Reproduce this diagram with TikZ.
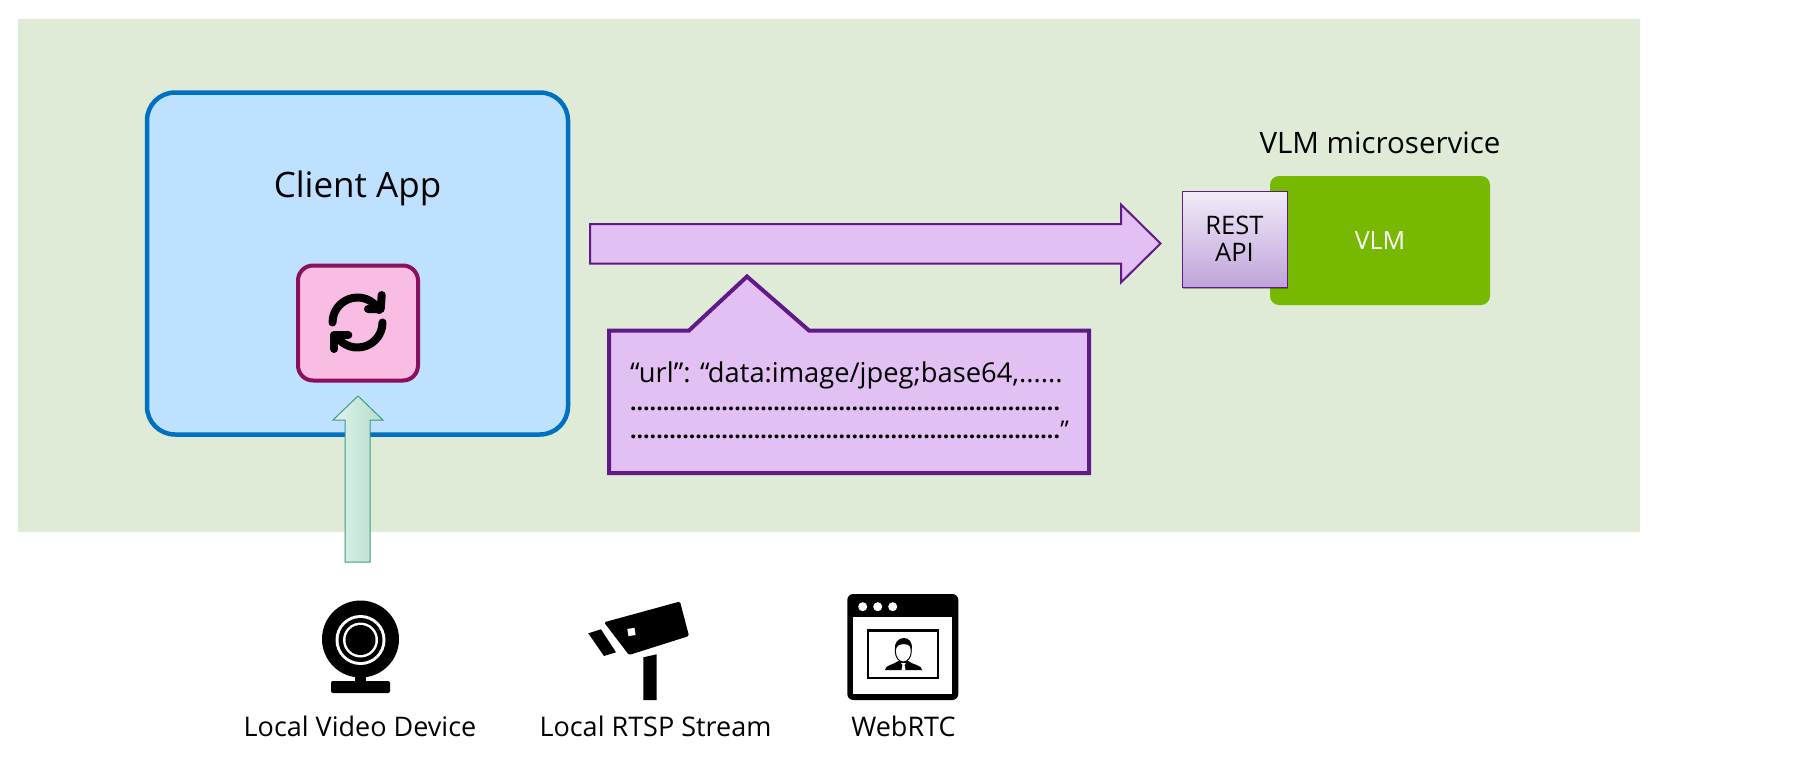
\documentclass[tikz,border=0pt]{standalone}
\usepackage{fontspec}
\setmainfont{Open Sans}
\usetikzlibrary{shadows}
\definecolor{panelgreen}{HTML}{DFEBD6}
\definecolor{clientblue}{HTML}{BDE1FF}
\definecolor{clientedge}{HTML}{0070C0}
\definecolor{syncpink}{HTML}{F9BCE2}
\definecolor{syncedge}{HTML}{8A0F5C}
\definecolor{callpurple}{HTML}{E2C0F3}
\definecolor{calledge}{HTML}{5F1A87}
\definecolor{vlmgreen}{HTML}{76B900}
\definecolor{arrowedge}{HTML}{3B9C83}
\definecolor{arrowlight}{HTML}{E0F3EB}
\definecolor{arrowdark}{HTML}{B5DDCB}
\definecolor{restlight}{HTML}{F1ECF9}
\definecolor{restdark}{HTML}{BFA3DA}
\tikzset{
  softshadow/.style={drop shadow={shadow xshift=1pt,shadow yshift=-1.5pt,fill=black,opacity=.3}},
  clientbox/.style={draw=clientedge,line width=4.5pt,fill=clientblue,rounded corners=28pt,minimum width=421pt,minimum height=342pt},
  syncbox/.style={draw=syncedge,line width=4pt,fill=syncpink,rounded corners=15pt,minimum width=120pt,minimum height=115pt,softshadow},
  vlmbox/.style={fill=vlmgreen,rounded corners=9pt,minimum width=220pt,minimum height=129pt,text=white,font=\fontsize{25}{30}\selectfont},
  restbox/.style={draw=calledge,line width=1pt,top color=restlight,bottom color=restdark,minimum width=105pt,minimum height=96pt,align=center,inner sep=0pt,font=\fontsize{25.5}{27.5}\selectfont,softshadow},
  biglabel/.style={anchor=base,inner sep=0pt,font=\fontsize{35}{40}\selectfont},
  caption/.style={anchor=base,inner sep=0pt,font=\fontsize{27}{32}\selectfont},
  titlelabel/.style={anchor=base,inner sep=0pt,font=\fontsize{29.5}{34}\selectfont},
  urlline/.style={anchor=base west,inner sep=0pt,font=\fontsize{27.3}{32}\selectfont},
  dotline/.style={anchor=base west,inner sep=0pt,font=\fontsize{22.85}{28}\selectfont},
  callshape/.style={draw=calledge,line width=4pt,fill=callpurple,line join=miter},
  syncline/.style={line width=8pt,line cap=round,line join=round}
}
\newcommand{\dotrow}{\textbf{..................................................................}}
\begin{document}
\begin{tikzpicture}[x=1pt,y=-1pt]
\useasboundingbox (0,0) rectangle (1797,761);
\fill[white] (0,0) rectangle (1797,761);
\fill[panelgreen] (18,18.5) rectangle (1640,532);

\node[clientbox] (client) at (357.5,263.5) {};
\node[biglabel] (clientlabel) at (357.5,197) {Client App};
\node[syncbox] (sync) at (358,323) {};
\draw[syncline] (332.5,322.5) arc[start angle=180,end angle=330,radius=25];
\draw[syncline] (381.7,295) -- (380.7,309) -- (368,309);
\draw[syncline] (382.5,322.5) arc[start angle=0,end angle=150,radius=25];
\draw[syncline] (348.3,335) -- (334,335) -- (334,349);

\draw[draw=arrowedge,line width=1pt,left color=arrowlight,right color=arrowdark] (358,396) -- (383,420) -- (370,420) -- (370,562) -- (345,562) -- (345,420) -- (333,420) -- cycle;

\draw[callshape,line width=2pt] (590,224) -- (1121,224) -- (1121,204.5) -- (1160.5,243.5) -- (1121,282.5) -- (1121,263.5) -- (590,263.5) -- cycle;
\draw[callshape] (609,330.5) -- (689,330.5) -- (747,276.5) -- (809,330.5) -- (1089,330.5) -- (1089,473) -- (609,473) -- cycle;
\node[urlline] (urltext) at (630,382) {“url”: “data:image/jpeg;base64,......};
\node[dotline] (dotsone) at (630,410) {\dotrow};
\node[dotline] (dotstwo) at (630,438) {\dotrow\fontsize{24.4}{28}\selectfont ”};

\node[titlelabel] (vlmtitle) at (1380,153.5) {VLM microservice};
\node[vlmbox] (vlm) at (1380,240.5) {VLM};
\node[restbox] (rest) at (1234.5,239) {REST\\API};

\fill (360.5,639) circle (38.5);
\fill[white] (360.5,640) circle (25);
\fill (360.5,640) circle (22);
\fill[white] (360.5,640) circle (17.5);
\fill (360.5,640) circle (15);
\fill (355,672) rectangle (366,683);
\fill[rounded corners=2pt] (331,681) rectangle (390,693);
\node[caption] (videolabel) at (360,736) {Local Video Device};

\fill[rounded corners=1.5pt] (604,622.3) -- (680,601.5) -- (689,636) -- (629,655) -- cycle;
\fill (588.3,633.3) -- (601,629.3) -- (616,652.3) -- (604,656) -- cycle;
\fill[white] (627.3,629) -- (634.5,627.8) -- (635.6,635) -- (628.5,636.2) -- cycle;
\fill (643.3,657.3) -- (656.7,654.3) -- (656.7,700) -- (643.3,700) -- cycle;
\node[caption] (rtsplabel) at (655.5,736) {Local RTSP Stream};

\fill[rounded corners=6pt] (847.3,594) rectangle (958.3,700);
\fill[white] (853.3,617.3) rectangle (952.3,694);
\foreach \dotx in {862.7,877.7,892.7}
  \fill[white] (\dotx,606.7) circle (4.5);
\draw[line width=2.5pt] (868,630.5) rectangle (938,678);
\fill (885,670) .. controls (885,665) and (893,665) .. (898.3,661) -- (908.3,661) .. controls (913,665) and (922,665) .. (922,670) -- cycle;
\fill[white] (901,663) -- (906,663) -- (904.5,665) -- (905.5,670) -- (901.5,670) -- (902.5,665) -- cycle;
\draw[fill=white,line width=1pt] (903.3,651) ellipse [x radius=8,y radius=11];
\fill (895.3,650) .. controls (892,635) and (915,633) .. (911.5,650) .. controls (910,644) and (906,644) .. (903,644) .. controls (900,644) and (897,645) .. (895.3,650) -- cycle;
\node[caption] (webrtclabel) at (903.5,736) {WebRTC};
\end{tikzpicture}
\end{document}
